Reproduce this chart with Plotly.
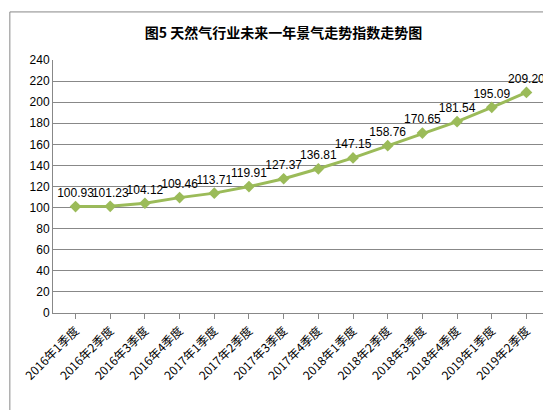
import plotly.graph_objects as go

quarters = ['2016年1季度', '2016年2季度', '2016年3季度', '2016年4季度',
            '2017年1季度', '2017年2季度', '2017年3季度', '2017年4季度',
            '2018年1季度', '2018年2季度', '2018年3季度', '2018年4季度',
            '2019年1季度', '2019年2季度']
index_values = [100.93, 101.23, 104.12, 109.46, 113.71, 119.91, 127.37,
                136.81, 147.15, 158.76, 170.65, 181.54, 195.09, 209.20]

fig = go.Figure(go.Scatter(
    x=quarters, y=index_values,
    mode='lines+markers+text',
    line=dict(color='#9bbb59', width=3),
    marker=dict(symbol='diamond', size=9, color='#9bbb59'),
    text=['%.2f' % v for v in index_values],
    textposition='top center',
    textfont=dict(family='Liberation Sans, Arial', size=12, color='black'),
    cliponaxis=False,
))

fig.update_layout(
    width=551, height=410,
    margin=dict(l=45, r=10, t=52, b=105),
    paper_bgcolor='white', plot_bgcolor='white',
    title=dict(text='<b>图5 天然气行业未来一年景气走势指数走势图</b>',
               x=0.5, y=0.95, xanchor='center',
               font=dict(family='Noto Sans CJK SC', size=14, color='black')),
    showlegend=False,
    shapes=[dict(type='rect', xref='paper', yref='paper', x0=-0.087, x1=1.014,
                 y0=-0.405, y1=1.19, line=dict(color='#888', width=1))],
)
fig.update_xaxes(tickangle=-45, showline=True, linecolor='#888',
                 ticks='outside', tickcolor='#888', range=[-0.65, 13.65],
                 tickfont=dict(family='Noto Sans CJK SC', size=12, color='black'))
fig.update_yaxes(range=[0, 240], dtick=20, gridcolor='#888', showline=True,
                 linecolor='#888', zeroline=False,
                 tickfont=dict(family='Liberation Sans, Arial', size=12, color='black'))

fig.write_html('out.html')
